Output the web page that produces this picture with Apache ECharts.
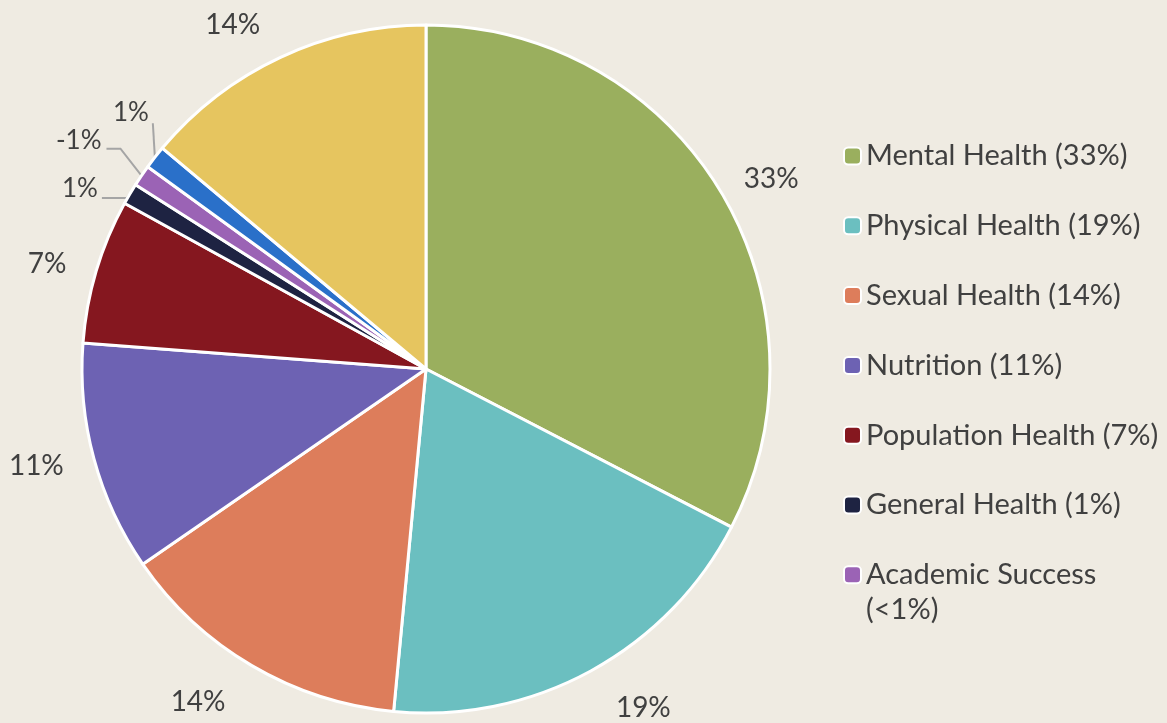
<!DOCTYPE html>
<html>
<head>
<meta charset="utf-8">
<style>
    html, body { margin: 0; padding: 0; background: #efebe2; }
    #chart { width: 1167px; height: 723px; }
</style>
<script src="https://cdn.jsdelivr.net/npm/echarts@6/dist/echarts.min.js"></script>
</head>
<body>
<div id="chart"></div>
<script>
// slices, clockwise from 12 o'clock
const names = ["Mental Health", "Physical Health", "Sexual Health", "Nutrition",
    "Population Health", "General Health", "Academic Success", "Other A", "Other B"];
const values = [32.6, 18.9, 13.9, 10.8, 6.8, 1.0, 1.0, 1.1, 13.9];
const sliceLabels = ["33%", "19%", "14%", "11%", "7%", "1%", "-1%", "1%", "14%"];
const colors = ["#9aaf5e", "#6bbfc0", "#dd7d5b", "#6d62b3", "#85171f",
    "#1e2342", "#9b63b5", "#2a70c9", "#e6c55f"];
// legend only lists the first seven; the last entry wraps onto a second line
const legendNames = names.slice(0, 7);
const legendTexts = ["Mental Health (33%)", "Physical Health (19%)", "Sexual Health (14%)",
    "Nutrition (11%)", "Population Health (7%)", "General Health (1%)", "Academic Success"];
const legendWrap = "(<1%)";

const textColor = "#404040";
const font = "Lato, 'Open Sans', sans-serif";
const lineColor = "#a5a5a5";

let mychart = echarts.init(document.getElementById("chart"), null, { renderer: "canvas" });

// distance from the rim for the big slice labels
const labelLen = [22, 42, 42, 26, 26, 0, 0, 0, 36];

// leader lines for the three thin slices, offsets from the rim point
function placeSmall(params) {
    let i = params.dataIndex;
    if (i < 5 || i > 7) return;
    let p = params.labelLinePoints[0];
    if (i === 5) {
        return {
            x: p[0] - 32, y: p[1] - 5, align: "right", verticalAlign: "middle",
            labelLinePoints: [p, [p[0] - 3, p[1] + 4], [p[0] - 28, p[1] + 4]],
        };
    }
    if (i === 6) {
        return {
            x: p[0] - 40, y: p[1] - 35, align: "right", verticalAlign: "middle",
            labelLinePoints: [p, [p[0] - 21, p[1] - 27], [p[0] - 35, p[1] - 27]],
        };
    }
    return {
        x: p[0] - 6, y: p[1] - 45, align: "right", verticalAlign: "middle",
        labelLinePoints: [p, [p[0] - 2, p[1] - 34], [p[0] - 2, p[1] - 34]],
    };
}

let option = {
    backgroundColor: "#efebe2",
    color: colors,
    title: {
        text: legendWrap,
        left: 866,
        top: 592,
        padding: 0,
        textStyle: { color: textColor, fontSize: 29, fontWeight: "normal", fontFamily: font, lineHeight: 36 },
    },
    legend: {
        data: legendNames,
        orient: "vertical",
        left: 838,
        top: 133,
        itemWidth: 17,
        itemHeight: 17,
        itemGap: 33.8,
        selectedMode: false,
        textStyle: { color: textColor, fontSize: 29, fontFamily: font, lineHeight: 36 },
        formatter: (name) => legendTexts[legendNames.indexOf(name)],
    },
    series: [{
        type: "pie",
        center: [426, 369],
        radius: 344,
        startAngle: 90,
        clockwise: true,
        avoidLabelOverlap: false,
        itemStyle: { borderColor: "#ffffff", borderWidth: 3 },
        label: {
            show: true,
            position: "outside",
            color: textColor,
            fontSize: 28,
            fontFamily: font,
            formatter: (p) => sliceLabels[p.dataIndex],
        },
        labelLine: { show: false, length: 30, length2: 0 },
        labelLayout: placeSmall,
        emphasis: { disabled: true },
        data: names.map((n, i) => {
            let item = { name: n, value: values[i] };
            if (i >= 5 && i <= 7) {
                item.labelLine = {
                    show: true, length: 10, length2: 10,
                    lineStyle: { color: lineColor, width: 2 },
                };
                item.label = { fontSize: 26 };
            } else {
                item.labelLine = { length: labelLen[i], length2: 0 };
            }
            return item;
        }),
    }],
};

mychart.setOption(option);
</script>
</body>
</html>
